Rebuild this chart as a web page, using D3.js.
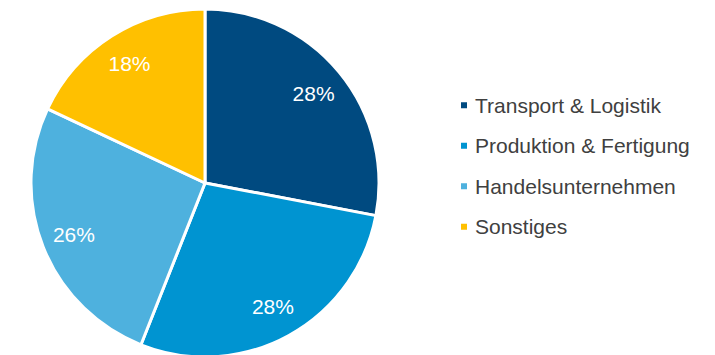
<!DOCTYPE html>
<html>
<head>
<meta charset="utf-8">
<script src="https://cdn.jsdelivr.net/npm/d3@7"></script>
<style>
  body { margin: 0; background: #fff; }
  text { font-family: "Liberation Sans", Arial, sans-serif; }
</style>
</head>
<body>
<div class="chart"></div>
<script>
const w = 715;
const h = 355;

const categories = ['Transport & Logistik', 'Produktion & Fertigung', 'Handelsunternehmen', 'Sonstiges'];
const shares = [28, 28, 26, 18];
const colors = ['#004A80', '#0094D1', '#4EB1DE', '#FFC000'];

const cx = 205;
const cy = 183;
const radius = 174;

const svg = d3.select('.chart')
  .append('svg')
  .attr('width', w)
  .attr('height', h);

const pie = d3.pie().sort(null).value((d) => d);
const arcs = pie(shares);

const arc = d3.arc().innerRadius(0).outerRadius(radius);
const labelArc = d3.arc().innerRadius(radius * 0.81).outerRadius(radius * 0.81);

const g = svg.append('g').attr('transform', `translate(${cx},${cy})`);

// slices
g.selectAll('path')
  .data(arcs)
  .enter()
  .append('path')
  .attr('d', arc)
  .attr('fill', (d, i) => colors[i])
  .attr('stroke', '#fff')
  .attr('stroke-width', 3)
  .attr('stroke-linejoin', 'round');

// percent labels
g.selectAll('text')
  .data(arcs)
  .enter()
  .append('text')
  .attr('transform', (d) => `translate(${labelArc.centroid(d)})`)
  .attr('text-anchor', 'middle')
  .attr('dy', '0.35em')
  .attr('fill', '#fff')
  .attr('font-size', 21)
  .text((d) => d.data + '%');

// legend
const legendY = d3.scaleBand()
  .domain(categories)
  .range([85, 247]);

const legend = svg.append('g');
const item = legend.selectAll('g')
  .data(categories)
  .enter()
  .append('g')
  .attr('transform', (d) => `translate(461,${legendY(d) + legendY.bandwidth() / 2})`);

item.append('rect')
  .attr('x', 0)
  .attr('y', -3)
  .attr('width', 6)
  .attr('height', 6)
  .attr('fill', (d, i) => colors[i]);

item.append('text')
  .attr('x', 14)
  .attr('dy', '0.35em')
  .attr('font-size', 21)
  .attr('fill', '#404040')
  .text((d) => d);
</script>
</body>
</html>
